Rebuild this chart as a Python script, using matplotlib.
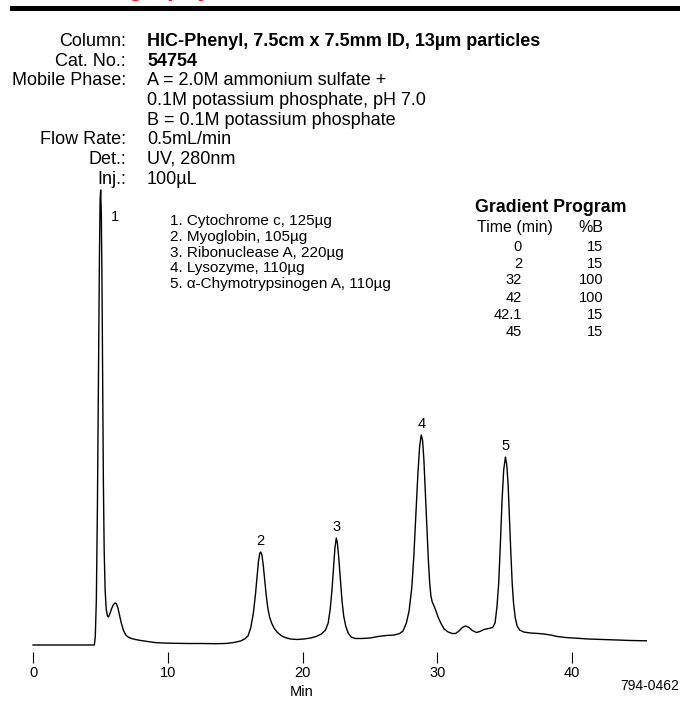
import matplotlib
matplotlib.use('Agg')
import matplotlib.pyplot as plt
from matplotlib.patches import Rectangle

plt.rcParams['font.family'] = ['Liberation Sans', 'DejaVu Sans']

# conditions block
header_labels = ['Column:', 'Cat. No.:', 'Mobile Phase:', '', '', 'Flow Rate:', 'Det.:', 'Inj.:']
header_values = ['HIC-Phenyl, 7.5cm x 7.5mm ID, 13\u00b5m particles', '54754',
                 'A = 2.0M ammonium sulfate +', '0.1M potassium phosphate, pH 7.0',
                 'B = 0.1M potassium phosphate', '0.5mL/min', 'UV, 280nm', '100\u00b5L']
header_bold = [True, True, False, False, False, False, False, False]

compounds = ['1. Cytochrome c, 125\u00b5g', '2. Myoglobin, 105\u00b5g', '3. Ribonuclease A, 220\u00b5g',
             '4. Lysozyme, 110\u00b5g', '5. \u03b1-Chymotrypsinogen A, 110\u00b5g']

grad_time = ['0', '2', '32', '42', '42.1', '45']
grad_b = ['15', '15', '100', '100', '15', '15']

# peaks: retention time (min) and apex height (detector units)
peak_rt = [5.02, 16.9, 22.5, 28.8, 35.05]
peak_top = [455, 93, 107, 210, 188]

# chromatogram trace
rt = [0, 2, 4.0, 4.55,
      4.62, 4.70, 4.78, 4.86, 4.93, 4.98, 5.02, 5.07, 5.12, 5.17, 5.22, 5.28, 5.35, 5.43, 5.52, 5.60,
      5.70, 5.82, 5.95, 6.08, 6.18, 6.30, 6.42, 6.55, 6.70, 6.88, 7.05, 7.3, 7.6, 8.0, 8.5, 9.0, 9.6,
      10.5, 11.5, 12.5, 13.5, 14.3, 14.9, 15.4, 15.7,
      15.95, 16.15, 16.35, 16.5, 16.62, 16.73, 16.83, 16.9, 16.98, 17.08, 17.18, 17.3, 17.42, 17.55,
      17.7, 17.88, 18.1, 18.4, 18.7, 19.1, 19.6, 20.1, 20.6, 21.0, 21.4, 21.7,
      21.9, 22.05, 22.18, 22.3, 22.4, 22.5, 22.58, 22.68, 22.8, 22.92, 23.05, 23.2, 23.38, 23.6, 23.9,
      24.4, 25.0, 25.6, 26.2, 26.8, 27.2,
      27.45, 27.7, 27.9, 28.1, 28.25, 28.4, 28.55, 28.68, 28.8, 28.9, 29.0, 29.1, 29.22, 29.33, 29.43,
      29.52, 29.62, 29.75, 29.9, 30.05, 30.25, 30.5, 30.8, 31.1, 31.35, 31.6, 31.85, 32.1, 32.35, 32.6,
      32.9, 33.15, 33.45, 33.8, 34.1,
      34.28, 34.42, 34.55, 34.67, 34.8, 34.92, 35.05, 35.15, 35.25, 35.35, 35.45, 35.55, 35.65, 35.78,
      35.92, 36.1, 36.4, 36.9, 37.5, 37.9, 38.4, 38.9, 39.5, 40.3, 41.2, 42.2, 43.3, 44.4, 45.5]
sig = [0, 0, 0, 0,
       8, 45, 140, 270, 390, 445, 455, 430, 360, 260, 165, 95, 55, 36, 29, 28,
       31, 36, 40, 42, 41.5, 37, 30, 22, 15, 10, 8, 6.5, 5.5, 4.5, 3.5, 2.5, 2,
       1.7, 1.5, 1.5, 1.3, 1.5, 2.5, 4, 6,
       9, 17, 32, 50, 68, 84, 92, 93, 90, 80, 66, 50, 37, 28,
       22, 17, 13, 9.5, 7.5, 6, 5.5, 6, 7, 8.5, 11, 15,
       22, 36, 55, 78, 97, 107, 102, 88, 66, 45, 29, 19, 12, 8, 6.5,
       6.5, 7, 8.5, 9.5, 10, 11.5,
       14, 22, 34, 57, 88, 128, 170, 198, 210, 205, 185, 155, 118, 85, 62,
       49, 43, 39, 34, 28, 22, 16, 13, 11.5, 11.5, 14, 17.5, 19, 17.5, 14.5,
       12.5, 13.5, 15.5, 16.5, 17.5,
       22, 38, 62, 100, 145, 175, 188, 180, 160, 125, 92, 62, 42, 27,
       19, 15, 13, 12, 11.5, 11, 10, 8.5, 7.5, 6.8, 6, 5.5, 5, 4.5, 4.2]

W, H = 680, 711


def fx(px):
    return px / W


def fy(py):
    return 1 - py / H


fig = plt.figure(figsize=(6.8, 7.11), dpi=100)

# red heading cut by the top edge (only descenders show), black rule under it
fig.text(fx(10), fy(-4), 'Chromatography', color='#f0141e', fontsize=18,
         fontweight='bold', va='baseline', ha='left')
fig.add_artist(Rectangle((fx(10), fy(11)), fx(670), 5 / H, transform=fig.transFigure,
                         facecolor='black', edgecolor='none'))

# header rows
for i in range(len(header_labels)):
    yb = fy(45.8 + i * 19.7)
    if header_labels[i]:
        fig.text(fx(126), yb, header_labels[i], ha='right', va='baseline', fontsize=13)
    fig.text(fx(147), yb, header_values[i], ha='left', va='baseline', fontsize=13,
             fontweight='bold' if header_bold[i] else 'normal')

# compound list
for i, c in enumerate(compounds):
    fig.text(fx(170), fy(225.5 + i * 15.6), c, ha='left', va='baseline', fontsize=11)

# gradient table
fig.text(fx(475), fy(212), 'Gradient Program', ha='left', va='baseline', fontsize=12.8, fontweight='bold')
fig.text(fx(477), fy(232), 'Time (min)', ha='left', va='baseline', fontsize=11.5)
fig.text(fx(603), fy(232), '%B', ha='right', va='baseline', fontsize=11.5)
grad_y = [251, 267.5, 284.5, 302, 319, 336]
for t, b, yy in zip(grad_time, grad_b, grad_y):
    fig.text(fx(522), fy(yy), t, ha='right', va='baseline', fontsize=10.5)
    fig.text(fx(603), fy(yy), b, ha='right', va='baseline', fontsize=10.5)

# chromatogram
ax = fig.add_axes([fx(33), fy(652), fx(680 - 33), (652 - 180) / H])
ax.plot(rt, sig, color='black', lw=1.0, clip_on=False)
ax.set_xlim(0, 48)
ax.set_ylim(-7, 465)
for s in ax.spines.values():
    s.set_visible(False)
ax.set_yticks([])
ax.set_xticks([0, 10, 20, 30, 40])
ax.tick_params(axis='x', direction='out', length=8, width=0.8, pad=2, labelsize=10.5)
ax.patch.set_visible(False)

for i in range(len(peak_rt)):
    if i == 0:
        ax.text(peak_rt[i] + 1.05, peak_top[i] - 27, '1', ha='center', va='center', fontsize=10.5)
    else:
        ax.text(peak_rt[i], peak_top[i] + 11, str(i + 1), ha='center', va='center', fontsize=10.5)

fig.text(fx(302), fy(692), 'Min', ha='center', va='center', fontsize=10.5)
fig.text(fx(679), fy(686), '794-0462', ha='right', va='center', fontsize=10)

fig.savefig('out.png', dpi=100)
